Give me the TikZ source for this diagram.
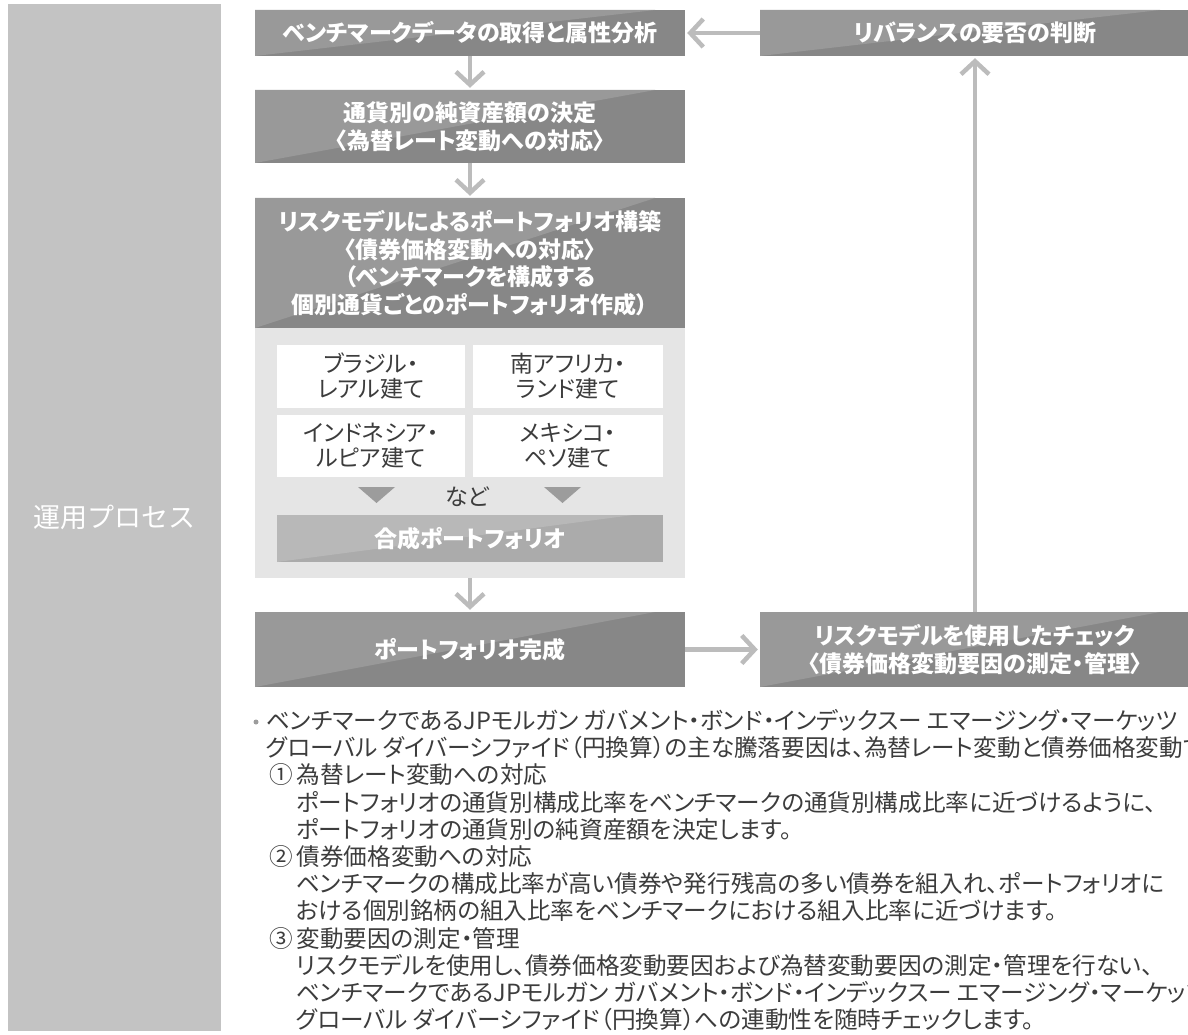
\documentclass[tikz,border=0pt]{standalone}
\usepackage{fontspec}
\setmainfont{Noto Sans CJK JP}[RawFeature={+palt}]
\newfontfamily\labelfamily{Noto Sans CJK JP}
\usetikzlibrary{arrows.meta}
\definecolor{bargrey}{HTML}{C3C3C3}
\definecolor{boxdark}{HTML}{878787}
\definecolor{boxlight}{HTML}{999999}
\definecolor{mixdark}{HTML}{ABABAB}
\definecolor{mixlight}{HTML}{B8B8B8}
\definecolor{panelgrey}{HTML}{E5E5E5}
\definecolor{arrowgrey}{HTML}{BCBCBC}
\definecolor{trigrey}{HTML}{9C9C9C}
\definecolor{inkgrey}{HTML}{3C3C3C}
\newcommand\boxfont{\fontsize{23}{27.5}\selectfont\bfseries}
\newcommand\notefont{\fontsize{23.6}{27}\selectfont}

\tikzset{
  procbox/.style={rectangle, fill=boxdark, text=white, minimum width=430pt,
    inner sep=0pt, align=center, font=\boxfont,
    path picture={\fill[boxlight] (path picture bounding box.north west)
      -- ([xshift=-30pt]path picture bounding box.north east)
      -- (path picture bounding box.south west) -- cycle;}},
  mixbox/.style={procbox, fill=mixdark, minimum width=386pt,
    path picture={\fill[mixlight] (path picture bounding box.north west)
      -- ([xshift=-30pt]path picture bounding box.north east)
      -- (path picture bounding box.south west) -- cycle;}},
  cellbox/.style={rectangle, fill=white, text=inkgrey, inner sep=0pt,
    align=center, font=\fontsize{23}{25}\selectfont},
  flow/.style={draw=arrowgrey, line width=4.5pt,
    -{Straight Barb[length=13pt, width=28pt]}, shorten >=2pt},
  note/.style={anchor=base west, inner sep=0pt, text=inkgrey, font=\notefont}
}

\begin{document}
\begin{tikzpicture}[x=1pt, y=-1pt]
    \useasboundingbox (0,0) rectangle (1188,1035);
    \clip (0,0) rectangle (1188,1035);
    % Side bar
        \node[fill=bargrey, minimum width=213pt, minimum height=1027pt, inner sep=0pt,
          text=white, font=\labelfamily\fontsize{27}{30}\selectfont] (process) at (114.5,517.5) {運用プロセス};
    % Process boxes (left column)
        \node[procbox, minimum height=46pt] (bench) at (470,33) {ベンチマークデータの取得と属性分析};
        \node[procbox, minimum height=73pt] (netasset) at (470,126.5) {通貨別の純資産額の決定\\〈為替レート変動への対応〉};
        \node[fill=panelgrey, minimum width=430pt, minimum height=250pt, inner sep=0pt] (panel) at (470,453) {};
        \node[procbox, minimum height=130pt] (riskbuild) at (470,263) {リスクモデルによるポートフォリオ構築\\〈債券価格変動への対応〉\\（ベンチマークを構成する\\個別通貨ごとのポートフォリオ作成）};
    % Currency cells
        \node[cellbox, minimum width=188pt, minimum height=63pt] (brl) at (371,376.5) {ブラジル・\\レアル建て};
        \node[cellbox, minimum width=190pt, minimum height=63pt] (zar) at (568,376.5) {南アフリカ・\\ランド建て};
        \node[cellbox, minimum width=188pt, minimum height=62pt] (idr) at (371,446) {インドネシア・\\ルピア建て};
        \node[cellbox, minimum width=190pt, minimum height=62pt] (mxn) at (568,446) {メキシコ・\\ペソ建て};
        \fill[trigrey] (358,487) -- (395,487) -- (376.5,503) -- cycle;
        \fill[trigrey] (544,487) -- (581,487) -- (562.5,503) -- cycle;
        \node[text=inkgrey, font=\fontsize{23}{25}\selectfont, inner sep=0pt] (nado) at (467,497) {など};
        \node[mixbox, minimum height=47pt] (composite) at (470,538.5) {合成ポートフォリオ};
        \node[procbox, minimum height=75pt] (complete) at (470,649.5) {ポートフォリオ完成};
    % Right column
        \node[procbox, minimum height=46pt] (rebal) at (975,33) {リバランスの要否の判断};
        \node[procbox, minimum height=75pt] (check) at (975,649.5) {リスクモデルを使用したチェック\\〈債券価格変動要因の測定・管理〉};
    % Arrows
        \draw[flow] (bench) -- (netasset);
        \draw[flow] (netasset) -- (riskbuild);
        \draw[flow] (panel) -- (complete);
        \draw[flow] (complete) -- (check);
        \draw[flow] (check) -- (rebal);
        \draw[flow] (rebal) -- (bench);
    % Notes
        \fill[trigrey] (256,722) circle (2.5);
        \node[note] (n1) at (266,729.5) {ベンチマークであるJPモルガン ガバメント・ボンド・インデックスー エマージング・マーケッツ};
        \node[note] (n2) at (266,756.7) {グローバル ダイバーシファイド（円換算）の主な騰落要因は、為替レート変動と債券価格変動です。};
        \node[note] (n3) at (269,783.9) {①\,為替レート変動への対応};
        \node[note] (n4) at (296,811.1) {ポートフォリオの通貨別構成比率をベンチマークの通貨別構成比率に近づけるように、};
        \node[note] (n5) at (296,838.3) {ポートフォリオの通貨別の純資産額を決定します。};
        \node[note] (n6) at (269,865.5) {②\,債券価格変動への対応};
        \node[note] (n7) at (296,892.7) {ベンチマークの構成比率が高い債券や発行残高の多い債券を組入れ、ポートフォリオに};
        \node[note] (n8) at (296,919.9) {おける個別銘柄の組入比率をベンチマークにおける組入比率に近づけます。};
        \node[note] (n9) at (269,947.1) {③\,変動要因の測定・管理};
        \node[note] (n10) at (296,974.3) {リスクモデルを使用し、債券価格変動要因および為替変動要因の測定・管理を行ない、};
        \node[note] (n11) at (296,1001.5) {ベンチマークであるJPモルガン ガバメント・ボンド・インデックスー エマージング・マーケッツ};
        \node[note] (n12) at (296,1028.7) {グローバル ダイバーシファイド（円換算）への連動性を随時チェックします。};
\end{tikzpicture}
\end{document}
